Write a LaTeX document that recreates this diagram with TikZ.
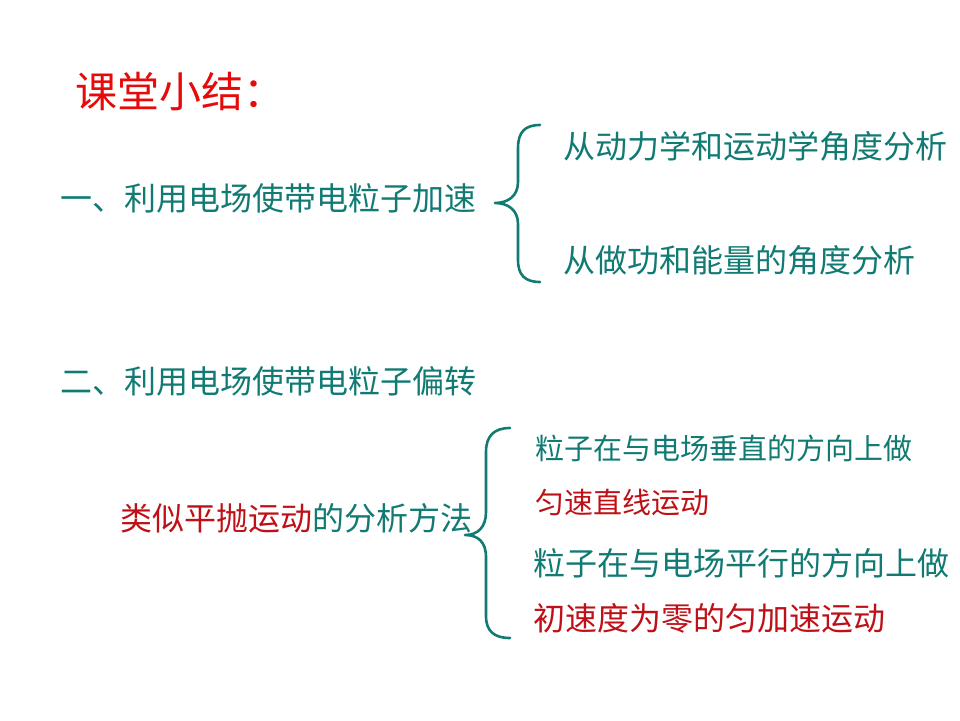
\documentclass[tikz,border=0pt]{standalone}
\usepackage{fontspec}
\setmainfont{Noto Sans CJK SC}
\definecolor{tealc}{RGB}{16,122,115}
\definecolor{titlered}{RGB}{230,10,10}
\definecolor{darkred}{RGB}{190,16,22}
\tikzset{
  txt/.style={anchor=base west,inner sep=0pt,font=\fontsize{32}{32}\selectfont,text=tealc},
  smalltxt/.style={txt,font=\fontsize{29}{29}\selectfont},
  brace/.style={draw=tealc,line width=2.6pt,line cap=round,line join=round}
}
\begin{document}
\begin{tikzpicture}[x=1pt,y=-1pt]
\useasboundingbox (0,0) rectangle (960,720);
\node[txt,font=\fontsize{42}{42}\selectfont,text=titlered] (title) at (75,107) {课堂小结：};
\node[txt] (one) at (60,210) {一、利用电场使带电粒子加速};
\node[txt] (a1) at (563,158) {从动力学和运动学角度分析};
\node[txt] (a2) at (563,272) {从做功和能量的角度分析};
\node[txt] (two) at (60,393) {二、利用电场使带电粒子偏转};
\node[txt] (method) at (120,530) {\textcolor{darkred}{类似平抛运动}的分析方法};
\node[smalltxt] (b1) at (535,459) {粒子在与电场垂直的方向上做};
\node[smalltxt,text=darkred] (b2) at (535,513) {匀速直线运动};
\node[txt] (b3) at (533,575) {粒子在与电场平行的方向上做};
\node[txt,text=darkred] (b4) at (533,630) {初速度为零的匀加速运动};
% brace 1
\coordinate (t1) at (540,125);
\coordinate (m1) at (495,203);
\coordinate (e1) at (540,282);
\draw[brace] (t1) .. controls (525,125) and (518,132) .. (518,148)
  -- (518,182) .. controls (518,196) and (508,203) .. (m1)
  .. controls (508,203) and (518,210) .. (518,224)
  -- (518,260) .. controls (518,275) and (525,282) .. (e1);
% brace 2
\coordinate (t2) at (510,428);
\coordinate (m2) at (465,535);
\coordinate (e2) at (510,638);
\draw[brace] (t2) .. controls (494,428) and (486,436) .. (486,452)
  -- (486,512) .. controls (486,527) and (478,535) .. (m2)
  .. controls (478,535) and (486,542) .. (486,557)
  -- (486,616) .. controls (486,631) and (494,638) .. (e2);
\end{tikzpicture}
\end{document}
